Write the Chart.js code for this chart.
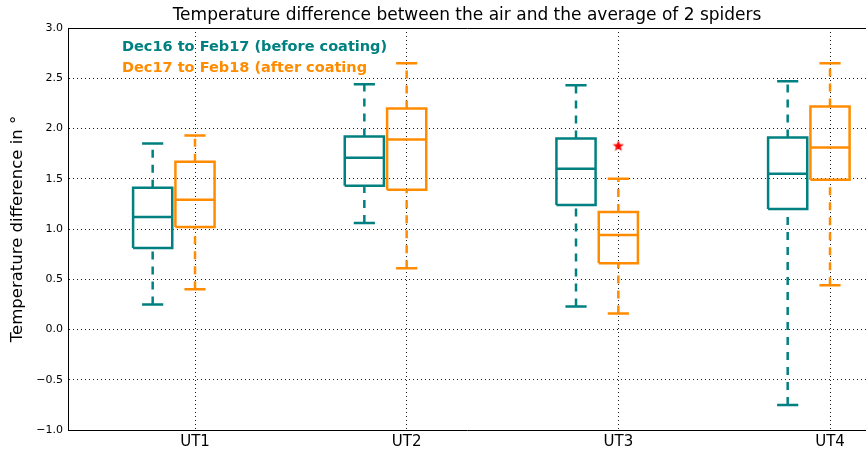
<!DOCTYPE html>
<html>
<head>
<meta charset="utf-8">
<script src="https://cdn.jsdelivr.net/npm/chart.js@4"></script>
<style>
  html, body { margin: 0; padding: 0; background: #fff; overflow: hidden; }
</style>
</head>
<body>
<canvas id="chart" width="866" height="453"></canvas>
<script>
// categories on the x axis (sit at 1..4)
const categories = ["UT1", "UT2", "UT3", "UT4"];
const seriesLabels = ["Dec16 to Feb17 (before coating)", "Dec17 to Feb18 (after coating"];
const seriesColors = ["#008080", "#FF8C00"];

// box stats: [low whisker, Q1, median, Q3, high whisker]
const before = [
  [0.25, 0.81, 1.12, 1.41, 1.85],
  [1.06, 1.43, 1.71, 1.92, 2.44],
  [0.23, 1.24, 1.60, 1.90, 2.43],
  [-0.75, 1.20, 1.55, 1.91, 2.47]
];
const after = [
  [0.40, 1.02, 1.29, 1.67, 1.93],
  [0.61, 1.39, 1.89, 2.20, 2.65],
  [0.16, 0.66, 0.94, 1.17, 1.50],
  [0.44, 1.49, 1.81, 2.22, 2.65]
];
const beforeOutliers = [[], [], [], []];
const afterOutliers = [[], [], [1.83], []];

const yTicks = [-1.0, -0.5, 0.0, 0.5, 1.0, 1.5, 2.0, 2.5, 3.0];

const offsets = [-0.2, 0];
const boxHalf = 0.0925;
const capHalf = 0.05;

// red filled star used for fliers
function starImage(size, color) {
  const c = document.createElement("canvas");
  c.width = size; c.height = size;
  const g = c.getContext("2d");
  const r1 = size / 2, r2 = r1 * 0.42, cx = size / 2, cy = size / 2 + 0.5;
  g.beginPath();
  for (let i = 0; i < 10; i++) {
    const r = i % 2 === 0 ? r1 : r2;
    const a = -Math.PI / 2 + i * Math.PI / 5;
    g.lineTo(cx + r * Math.cos(a), cy + r * Math.sin(a));
  }
  g.closePath();
  g.fillStyle = color;
  g.fill();
  return c;
}

function buildDatasets(stats, fliers, si) {
  const solid = [];
  const dashed = [];
  const out = [];
  stats.forEach((s, i) => {
    const x = i + 1 + offsets[si];
    const [lo, q1, med, q3, hi] = s;
    // box outline
    solid.push({x: x - boxHalf, y: q1}, {x: x + boxHalf, y: q1}, {x: x + boxHalf, y: q3},
               {x: x - boxHalf, y: q3}, {x: x - boxHalf, y: q1}, {x: x, y: null});
    // median
    solid.push({x: x - boxHalf, y: med}, {x: x + boxHalf, y: med}, {x: x, y: null});
    // caps
    solid.push({x: x - capHalf, y: lo}, {x: x + capHalf, y: lo}, {x: x, y: null});
    solid.push({x: x - capHalf, y: hi}, {x: x + capHalf, y: hi}, {x: x, y: null});
    // whiskers
    dashed.push({x: x, y: lo}, {x: x, y: q1}, {x: x, y: null});
    dashed.push({x: x, y: q3}, {x: x, y: hi}, {x: x, y: null});
    fliers[i].forEach(v => out.push({x: x, y: v}));
  });
  const color = seriesColors[si];
  return [
    {label: seriesLabels[si] + " box", data: solid, showLine: true, spanGaps: false,
     borderColor: color, borderWidth: 2.5, pointRadius: 0},
    {label: seriesLabels[si] + " whiskers", data: dashed, showLine: true, spanGaps: false,
     borderColor: color, borderWidth: 2.5, borderDash: [8, 7], pointRadius: 0},
    {label: seriesLabels[si] + " fliers", data: out, showLine: false,
     pointStyle: starImage(12, "#FF0000"), pointRadius: 6}
  ];
}

const datasets = [
  ...buildDatasets(before, beforeOutliers, 0),
  ...buildDatasets(after, afterOutliers, 1)
];

// colored legend texts, no handles, like the matplotlib one
const textLegend = {
  id: "textLegend",
  afterDatasetsDraw(chart) {
    const {ctx, chartArea} = chart;
    ctx.save();
    ctx.font = "bold 14.5px 'DejaVu Sans'";
    ctx.textBaseline = "middle";
    ctx.textAlign = "left";
    seriesLabels.forEach((t, i) => {
      ctx.fillStyle = seriesColors[i];
      ctx.fillText(t, chartArea.left + 54, chartArea.top + 19 + i * 21);
    });
    ctx.restore();
  }
};

const gridStyle = {
  color: "rgba(0,0,0,0.9)",
  lineWidth: 1,
  drawTicks: false
};

new Chart(document.getElementById("chart"), {
  type: "scatter",
  data: {datasets: datasets},
  options: {
    responsive: false,
    animation: false,
    devicePixelRatio: 1,
    layout: {padding: 0, autoPadding: false},
    plugins: {
      legend: {display: false},
      tooltip: {enabled: false}
    },
    scales: {
      x: {
        type: "linear",
        min: 0.4,
        max: 4.17,
        afterBuildTicks: (scale) => {
          scale.ticks = categories.map((c, i) => ({value: i + 1}));
        },
        afterFit: (scale) => { scale.height = 23; },
        ticks: {
          callback: (v, i) => categories[i],
          color: "#000",
          font: {family: "DejaVu Sans", size: 15},
          padding: 3,
          maxRotation: 0
        },
        grid: gridStyle,
        border: {display: true, color: "#000", width: 1, dash: [1, 3]}
      },
      x2: {
        type: "linear",
        position: "top",
        min: 0.4,
        max: 4.17,
        afterFit: (scale) => { scale.height = 28; },
        ticks: {display: false},
        grid: {display: false, drawTicks: false},
        border: {display: true, color: "#000", width: 1},
        title: {
          display: true,
          text: "Temperature difference between the air and the average of 2 spiders",
          color: "#000",
          font: {family: "DejaVu Sans", size: 17},
          padding: {top: 5, bottom: 0}
        }
      },
      y: {
        min: -1,
        max: 3,
        afterBuildTicks: (scale) => {
          scale.ticks = yTicks.map(v => ({value: v}));
        },
        afterFit: (scale) => { scale.width = 68; },
        ticks: {
          callback: (v) => v.toFixed(1).replace("-", "\u2212"),
          color: "#000",
          font: {family: "DejaVu Sans", size: 11},
          padding: 5
        },
        grid: gridStyle,
        border: {display: true, color: "#000", width: 1, dash: [1, 3]},
        title: {
          display: true,
          text: "Temperature difference in \u00b0",
          color: "#000",
          font: {family: "DejaVu Sans", size: 16.5},
          padding: {top: 8, bottom: 0}
        }
      }
    }
  },
  plugins: [textLegend]
});
</script>
</body>
</html>
